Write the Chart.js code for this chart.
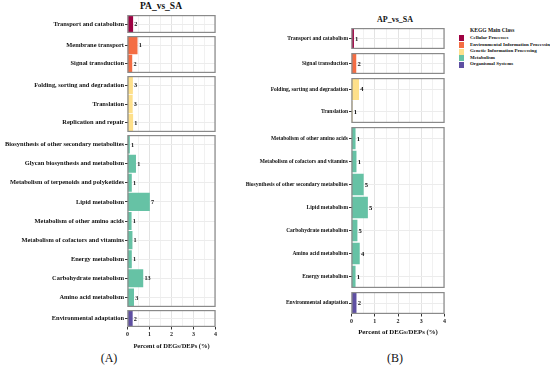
<!DOCTYPE html>
<html>
<head>
<meta charset="utf-8">
<script src="https://cdn.jsdelivr.net/npm/chart.js@4.4.1/dist/chart.umd.min.js"></script>
<style>
  body { margin: 0; background: #fff; }
  #wrap { position: relative; width: 550px; height: 367px; overflow: hidden; font-family: 'Liberation Serif', 'Times New Roman', serif; color: #111; }
  .facet { position: absolute; }
  .facet canvas { display: block; }
  .txt { position: absolute; white-space: nowrap; transform: translate(-50%, -50%); line-height: 1; }
  .bold { font-weight: bold; }
  #legend { position: absolute; left: 459px; top: 27.5px; font-weight: bold; font-size: 4.95px; line-height: 1; white-space: nowrap; }
  #legend .ttl { margin-left: 11px; margin-bottom: 2.2px; font-size: 5.5px; }
  #legend .item { display: flex; align-items: center; height: 6.6px; }
  #legend .sw { width: 4.5px; height: 6px; margin-right: 6.5px; flex: none; }
</style>
</head>
<body>
<div id="wrap">
  <div class="txt bold" style="left:161px; top:6.5px; font-size:9.5px;">PA_vs_SA</div>
  <div class="txt bold" style="left:395px; top:20px; font-size:8px;">AP_vs_SA</div>
  <div class="txt" style="left:109px; top:358px; font-size:12px;">(A)</div>
  <div class="txt" style="left:395px; top:358px; font-size:12px;">(B)</div>
  <div id="legend"></div>
</div>
<script>
// KEGG main classes (ggplot Spectral palette)
const classNames = ['Cellular Processes', 'Environmental Information Processing', 'Genetic Information Processing', 'Metabolism', 'Organismal Systems'];
const classColors = ['#9E0142', '#F46D43', '#FEE08B', '#66C2A5', '#5E4FA2'];

// PA_vs_SA
const paPathways = ['Transport and catabolism', 'Membrane transport', 'Signal transduction',
    'Folding, sorting and degradation', 'Translation', 'Replication and repair',
    'Biosynthesis of other secondary metabolites', 'Glycan biosynthesis and metabolism',
    'Metabolism of terpenoids and polyketides', 'Lipid metabolism', 'Metabolism of other amino acids',
    'Metabolism of cofactors and vitamins', 'Energy metabolism', 'Carbohydrate metabolism',
    'Amino acid metabolism', 'Environmental adaptation'];
const paClass = [0, 1, 1, 2, 2, 2, 3, 3, 3, 3, 3, 3, 3, 3, 3, 4];
const paPercent = [0.24, 0.44, 0.2, 0.23, 0.22, 0.24, 0.09, 0.37, 0.18, 1.0, 0.17, 0.21, 0.18, 0.7, 0.28, 0.22];
const paCount = [2, 1, 2, 3, 3, 1, 1, 1, 1, 7, 1, 1, 1, 13, 3, 2];

// AP_vs_SA
const apPathways = ['Transport and catabolism', 'Signal transduction',
    'Folding, sorting and degradation', 'Translation',
    'Metabolism of other amino acids', 'Metabolism of cofactors and vitamins',
    'Biosynthesis of other secondary metabolites', 'Lipid metabolism', 'Carbohydrate metabolism',
    'Amino acid metabolism', 'Energy metabolism', 'Environmental adaptation'];
const apClass = [0, 1, 2, 2, 3, 3, 3, 3, 3, 3, 3, 4];
const apPercent = [0.09, 0.19, 0.31, 0.03, 0.16, 0.2, 0.51, 0.69, 0.24, 0.34, 0.16, 0.2];
const apCount = [1, 2, 4, 1, 1, 1, 5, 5, 5, 4, 1, 2];

const xMax = 4;
const xTitle = 'Percent of DEGs/DEPs (%)';
const serif = "'Liberation Serif', 'Times New Roman', serif";

// where each side sits on the page (px)
const layouts = {
    pa: {left: 0, width: 230, plotLeft: 127.5, plotRight: 215.5, firstTop: 15.3, gap: 3.2, pitch: 19.3,
        axisH: 27, labelSize: 6.4, countSize: 6.2, tickSize: 6, titleSize: 6.5},
    ap: {left: 230, width: 230, plotLeft: 351.5, plotRight: 444.5, firstTop: 28, gap: 4.1, pitch: 23.4,
        axisH: 26, labelSize: 5.5, countSize: 6.6, tickSize: 6, titleSize: 6.8},
};

// число над концом столбика
const countLabels = {
    id: 'countLabels',
    afterDatasetsDraw(chart, args, opts) {
        const {ctx} = chart;
        const meta = chart.getDatasetMeta(0);
        ctx.save();
        ctx.font = `bold ${opts.size}px ${serif}`;
        ctx.fillStyle = '#111';
        ctx.textBaseline = 'middle';
        meta.data.forEach((bar, i) => {
            ctx.fillText(String(opts.counts[i]), bar.x + 1.5, bar.y + 0.5);
        });
        ctx.restore();
    }
};

// рамка вокруг фасета
const panelFrame = {
    id: 'panelFrame',
    afterDraw(chart) {
        const {ctx, chartArea: a} = chart;
        ctx.save();
        ctx.strokeStyle = '#8a8a8a';
        ctx.lineWidth = 1.2;
        ctx.strokeRect(a.left + 0.5, a.top + 0.6, a.right - a.left - 1, a.bottom - a.top - 1.2);
        ctx.restore();
    }
};

function groupFacets(pathways, cls, pct, cnt) {
    const facets = [];
    pathways.forEach((name, i) => {
        let f = facets[facets.length - 1];
        if (!f || f.cls !== cls[i]) {
            f = {cls: cls[i], labels: [], values: [], counts: []};
            facets.push(f);
        }
        f.labels.push(name);
        f.values.push(pct[i]);
        f.counts.push(cnt[i]);
    });
    return facets;
}

function drawSide(facets, lay) {
    const wrap = document.getElementById('wrap');
    let top = lay.firstTop;
    facets.forEach((f, k) => {
        const n = f.labels.length;
        const bottom = top + (n - 0.1) * lay.pitch;
        const y0 = Math.round(top);
        const y1 = Math.round(bottom);
        const isLast = k === facets.length - 1;
        const h = (y1 - y0) + (isLast ? lay.axisH : 0);

        const div = document.createElement('div');
        div.className = 'facet';
        div.style.left = lay.left + 'px';
        div.style.top = y0 + 'px';
        const canvas = document.createElement('canvas');
        canvas.width = lay.width;
        canvas.height = h;
        canvas.style.width = lay.width + 'px';
        canvas.style.height = h + 'px';
        div.appendChild(canvas);
        wrap.appendChild(div);

        new Chart(canvas, {
            type: 'bar',
            data: {
                labels: f.labels,
                datasets: [{
                    data: f.values,
                    backgroundColor: classColors[f.cls],
                    borderWidth: 0,
                    barThickness: lay.pitch * 0.9,
                }],
            },
            options: {
                indexAxis: 'y',
                responsive: false,
                maintainAspectRatio: false,
                animation: false,
                layout: {padding: {left: 0, top: 0, bottom: 0, right: lay.left + lay.width - lay.plotRight}},
                plugins: {
                    legend: {display: false},
                    tooltip: {enabled: false},
                    countLabels: {counts: f.counts, size: lay.countSize},
                },
                scales: {
                    x: {
                        min: 0,
                        max: xMax,
                        ticks: {
                            stepSize: 0.5,
                            display: isLast,
                            autoSkip: false,
                            maxRotation: 0,
                            padding: 1,
                            color: '#222',
                            font: {family: serif, weight: 'bold', size: lay.tickSize},
                            callback: (v) => Number.isInteger(v) ? v : '',
                        },
                        grid: {
                            color: (c) => Number.isInteger(c.tick.value) ? '#e3e3e3' : '#f1f1f1',
                            drawTicks: isLast,
                            tickLength: 2.5,
                            tickColor: (c) => Number.isInteger(c.tick.value) ? '#333' : 'rgba(0,0,0,0)',
                        },
                        border: {display: false},
                        title: {
                            display: isLast,
                            text: xTitle,
                            color: '#111',
                            font: {family: serif, weight: 'bold', size: lay.titleSize},
                            padding: {top: 2, bottom: 4},
                        },
                        afterFit: (s) => { s.height = isLast ? lay.axisH : 0; },
                    },
                    y: {
                        ticks: {
                            autoSkip: false,
                            padding: 1,
                            color: '#111',
                            font: {family: serif, weight: 'bold', size: lay.labelSize},
                        },
                        grid: {offset: false, color: '#ececec', tickLength: 2.5, tickColor: '#333'},
                        border: {display: false},
                        afterFit: (s) => {
                            s.width = lay.plotLeft - lay.left;
                            // без лишних отступов сверху/снизу под подписи
                            s.paddingTop = 0;
                            s.paddingBottom = 0;
                        },
                    },
                },
            },
            plugins: [countLabels, panelFrame],
        });
        top = bottom + lay.gap;
    });
}

function buildLegend() {
    const box = document.getElementById('legend');
    const ttl = document.createElement('div');
    ttl.className = 'ttl';
    ttl.textContent = 'KEGG Main Class';
    box.appendChild(ttl);
    classNames.forEach((name, i) => {
        const item = document.createElement('div');
        item.className = 'item';
        const sw = document.createElement('span');
        sw.className = 'sw';
        sw.style.backgroundColor = classColors[i];
        const span = document.createElement('span');
        span.textContent = name;
        item.appendChild(sw);
        item.appendChild(span);
        box.appendChild(item);
    });
}

drawSide(groupFacets(paPathways, paClass, paPercent, paCount), layouts.pa);
drawSide(groupFacets(apPathways, apClass, apPercent, apCount), layouts.ap);
buildLegend();
</script>
</body>
</html>
